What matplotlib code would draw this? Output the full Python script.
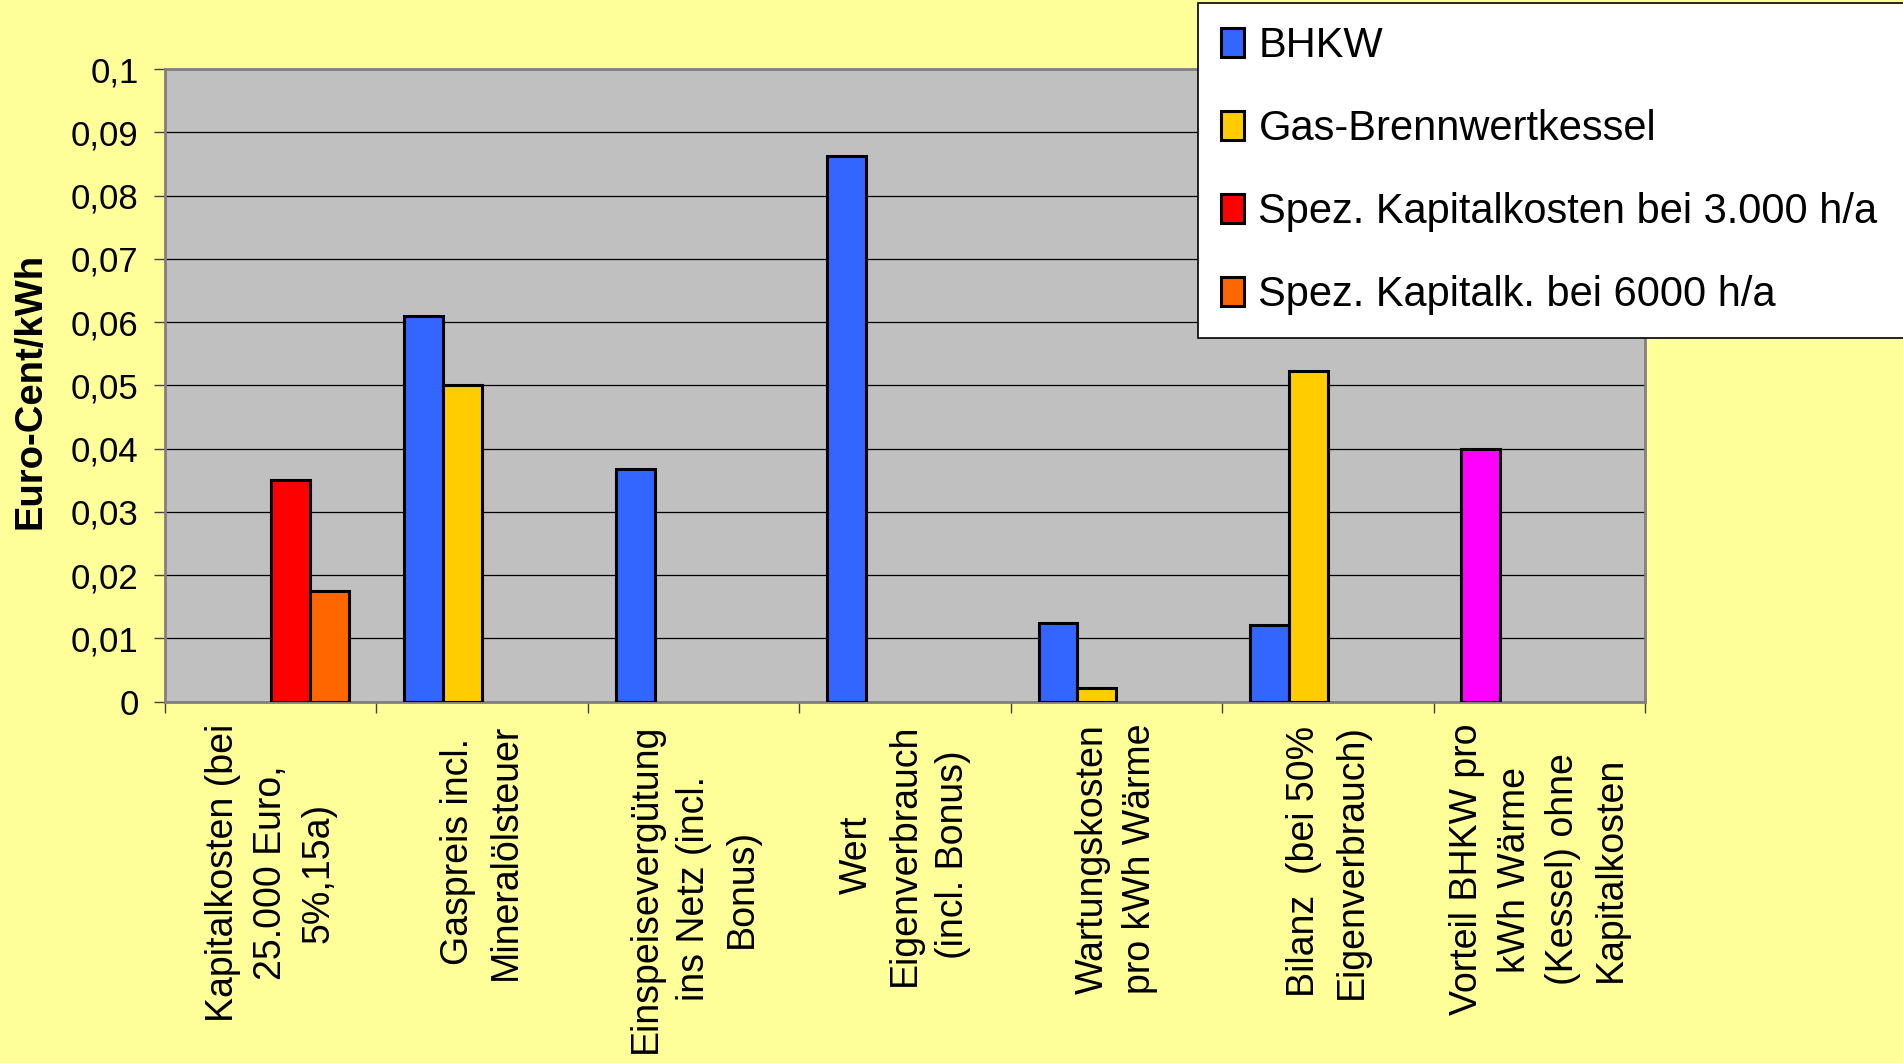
import numpy as np
import matplotlib.pyplot as plt
from matplotlib.ticker import FixedLocator

# data
categories = [
    "Kapitalkosten (bei\n25.000 Euro,\n5%,15a)",
    "Gaspreis incl.\nMineralölsteuer",
    "Einspeisevergütung\nins Netz (incl.\nBonus)",
    "Wert\nEigenverbrauch\n(incl. Bonus)",
    "Wartungskosten\npro kWh Wärme",
    "Bilanz  (bei 50%\nEigenverbrauch)",
    "Vorteil BHKW pro\nkWh Wärme\n(Kessel) ohne\nKapitalkosten",
]
nan = np.nan
bhkw = [nan, 0.061, 0.0367, 0.0862, 0.0125, 0.0121, 0.040]
gas = [nan, 0.050, nan, nan, 0.0021, 0.0522, nan]
kap3000 = [0.035, nan, nan, nan, nan, nan, nan]
kap6000 = [0.0175, nan, nan, nan, nan, nan, nan]
series_names = ["BHKW", "Gas-Brennwertkessel",
                "Spez. Kapitalkosten bei 3.000 h/a", "Spez. Kapitalk. bei 6000 h/a"]
yticks = [0, 0.01, 0.02, 0.03, 0.04, 0.05, 0.06, 0.07, 0.08, 0.09, 0.1]
ytick_labels = ["0", "0,01", "0,02", "0,03", "0,04", "0,05", "0,06", "0,07", "0,08", "0,09", "0,1"]

blue = "#3366FF"
yellow = "#FFCC00"
red = "#FF0000"
orange = "#FF6600"
magenta = "#FF00FF"
bhkw_colors = [blue] * 6 + [magenta]

plt.rcParams["font.family"] = ["Liberation Sans", "DejaVu Sans"]

fig = plt.figure(figsize=(19.03, 10.63), dpi=100, facecolor="#FFFF99")
ax = fig.add_axes([0.0867, 0.340, 0.7777, 0.595])
ax.set_facecolor("#C0C0C0")

x = np.arange(len(categories))
w = 0.184
edge = dict(edgecolor="black", linewidth=2.2, zorder=3)
b1 = ax.bar(x - 1.5 * w, bhkw, w, color=bhkw_colors, label=series_names[0], **edge)
b2 = ax.bar(x - 0.5 * w, gas, w, color=yellow, label=series_names[1], **edge)
b3 = ax.bar(x + 0.5 * w, kap3000, w, color=red, label=series_names[2], **edge)
b4 = ax.bar(x + 1.5 * w, kap6000, w, color=orange, label=series_names[3], **edge)

ax.set_xlim(-0.5, len(categories) - 0.5)
ax.set_ylim(0, 0.1)
ax.set_yticks(yticks)
ax.set_yticklabels(ytick_labels, fontsize=25)
ax.yaxis.grid(True, color="black", linewidth=0.9, zorder=1)
ax.set_axisbelow(True)
ax.tick_params(axis="y", length=8, width=1, color="#404040", pad=11)

ax.set_xticks(x)
ax.set_xticklabels(categories, rotation=90, ha="center", va="top",
                   multialignment="center", fontsize=27, linespacing=1.43)
ax.tick_params(axis="x", which="major", length=0, pad=16)
ax.xaxis.set_minor_locator(FixedLocator(np.arange(-0.5, len(categories), 1.0)))
ax.tick_params(axis="x", which="minor", length=8, width=1, color="#404040")

for s in ax.spines.values():
    s.set_color("#808080")
    s.set_linewidth(2)

fig.text(31 / 1903, 1 - 391 / 1063, "Euro-Cent/kWh", rotation=90, ha="center",
         va="center", fontsize=27.5, fontweight="bold")

# legend box runs off the right edge like in the original
leg = fig.legend(handles=[b1[1], b2[1], b3[0], b4[0]], labels=series_names,
                 loc="upper left", mode="expand",
                 bbox_to_anchor=(1198 / 1903, 0.5, 0.40, 0.5 - 3 / 1063),
                 prop={"size": 30}, frameon=True,
                 fancybox=False, framealpha=1, edgecolor="black",
                 handlelength=0.55, handleheight=0.7, handletextpad=0.35,
                 labelspacing=1.03, borderpad=0.55, borderaxespad=0)
leg.get_frame().set_linewidth(1.2)

fig.savefig("out.png", dpi=100, facecolor=fig.get_facecolor())
